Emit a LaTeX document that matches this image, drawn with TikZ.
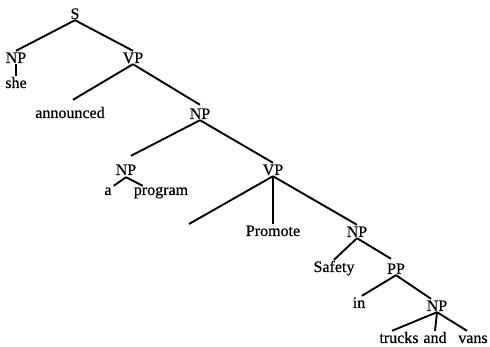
\documentclass[tikz,border=0pt]{standalone}
\usepackage{fontspec}
\setmainfont[FakeBold=0.6]{Liberation Serif}
\begin{document}
\begin{tikzpicture}[x=1pt,y=-1pt,
  lbl/.style={font=\fontsize{16}{18}\selectfont, inner xsep=0pt, inner ysep=1pt,
              text height=11pt, text depth=0pt, anchor=base},
  edge/.style={line width=1.9pt, black}]
\useasboundingbox (0,0) rectangle (490,347);
% nodes
\node[lbl] (S) at (75,19) {S};
\node[lbl] (NPa) at (16,63) {NP};
\node[lbl] (she) at (16,88) {she};
\node[lbl] (VPa) at (133,63) {VP};
\node[lbl] (announced) at (70,118) {announced};
\node[lbl] (NPb) at (200,119) {NP};
\node[lbl] (NPc) at (126,175) {NP};
\node[lbl] (a) at (108,195) {a};
\node[lbl] (program) at (161,195) {program};
\node[lbl] (VPb) at (273,175) {VP};
\coordinate (bare) at (189,224);
\node[lbl] (Promote) at (273,236) {Promote};
\node[lbl] (NPd) at (357,237) {NP};
\node[lbl] (Safety) at (334,272) {Safety};
\node[lbl] (PP) at (396,274) {PP};
\node[lbl] (in) at (359,308) {in};
\node[lbl] (NPe) at (437,311) {NP};
\node[lbl] (trucks) at (399,343) {trucks};
\node[lbl] (and) at (435,343) {and};
\node[lbl] (vans) at (473,343) {vans};
% edges
\draw[edge] (S.south) -- (NPa.north);
\draw[edge] (S.south) -- (VPa.north);
\draw[edge] (NPa.south) -- (she.north);
\draw[edge] (VPa.south) -- ([xshift=3pt,yshift=6pt]announced.north);
\draw[edge] (VPa.south) -- ([yshift=2pt]NPb.north);
\draw[edge] (NPb.south) -- ([xshift=5pt,yshift=7pt]NPc.north);
\draw[edge] (NPb.south) -- (VPb.north);
\draw[edge] ([yshift=-1pt]NPc.south) -- ([xshift=2pt,yshift=-3pt]a.north east);
\draw[edge] ([yshift=-1pt]NPc.south) -- ([xshift=9pt,yshift=-3pt]program.north west);
\draw[edge] (VPb.south) -- (bare);
\draw[edge] (VPb.south) -- (Promote.north);
\draw[edge] (VPb.south) -- (NPd.north);
\draw[edge] (NPd.south) -- (Safety.north);
\draw[edge] (NPd.south) -- ([xshift=-5pt,yshift=3pt]PP.north);
\draw[edge] (PP.south) -- ([xshift=3pt]in.north);
\draw[edge] (PP.south) -- ([xshift=-6pt]NPe.north);
\draw[edge] (NPe.south) -- ([xshift=-7pt]trucks.north);
\draw[edge] (NPe.south) -- (and.north);
\draw[edge] (NPe.south) -- ([xshift=-6pt]vans.north);
\end{tikzpicture}
\end{document}
